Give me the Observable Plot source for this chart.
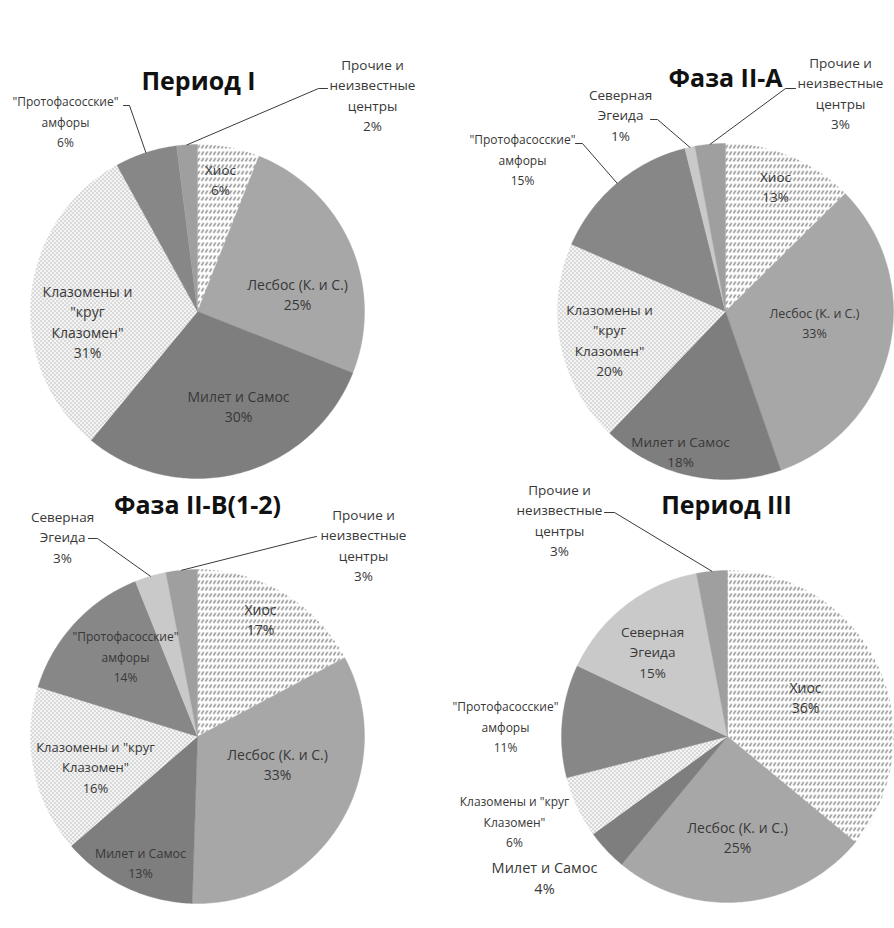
<!DOCTYPE html>
<html><head><meta charset="utf-8">
<script src="https://cdn.jsdelivr.net/npm/d3@7"></script>
<script src="https://cdn.jsdelivr.net/npm/@observablehq/plot@0.6"></script>
<style>
body{margin:0;background:#fff;}
#chart{width:894px;height:928px;}
</style>
</head><body>
<svg width="0" height="0" style="position:absolute">
<defs>
<pattern id="hatch" patternUnits="userSpaceOnUse" width="4" height="6.5">
<rect width="4" height="6.5" fill="#fff"/>
<path d="M1,5 L3.2,1.4" stroke="#5e5e5e" stroke-width="1.05"/>
</pattern>
<pattern id="dots" patternUnits="userSpaceOnUse" width="4" height="4">
<rect width="4" height="4" fill="#f7f7f7"/>
<rect x="0" y="0" width="1.1" height="1.1" fill="#8a8a8a"/>
<rect x="2" y="2" width="1.1" height="1.1" fill="#8a8a8a"/>
</pattern>
</defs></svg>
<div id="chart"></div>
<script>
// ---- DATA ----
const categories = ["Хиос", "Лесбос (К. и С.)", "Милет и Самос", "Клазомены и \"круг Клазомен\"", "\"Протофасосские\" амфоры", "Северная Эгеида", "Прочие и неизвестные центры"];
const panelTitles = ["Период I", "Фаза II-A", "Фаза II-B(1-2)", "Период III"];
const valuesPeriodI   = [6, 25, 30, 31, 6, 0, 2];
const valuesPhaseIIA  = [13, 33, 18, 20, 15, 1, 3];
const valuesPhaseIIB  = [17, 33, 13, 16, 14, 3, 3];
const valuesPeriodIII = [36, 25, 4, 6, 11, 15, 3];
const panelValues = [valuesPeriodI, valuesPhaseIIA, valuesPhaseIIB, valuesPeriodIII];

// ---- STYLE ----
const sliceFill = ["url(#hatch)", "#a7a7a7", "#7e7e7e", "url(#dots)", "#878787", "#c9c9c9", "#9f9f9f"];

// ---- LAYOUT (label placement, wrapping) ----
const layout = [
  {cx:197, cy:311, r:167, tx:198, ty:81, labels:[
    {x:220, y:170, s:13.5, lines:["Хиос"]},
    {x:297, y:285, s:14,   lines:["Лесбос (К. и С.)"]},
    {x:238, y:397, s:14,   lines:["Милет и Самос"]},
    {x:87,  y:292, s:14,   lines:["Клазомены и","\"круг","Клазомен\""]},
    {x:65,  y:102, s:12,   lines:["\"Протофасосские\"","амфоры"], lead:[[123,105],[129,105]]},
    null,
    {x:372, y:65,  s:13.5, lines:["Прочие и","неизвестные","центры"], lead:[[327,88],[318,88]]}
  ]},
  {cx:725, cy:311, r:168, tx:725, ty:78, labels:[
    {x:775, y:177, s:13.5, lines:["Хиос"]},
    {x:814, y:313, s:12.5, lines:["Лесбос (К. и С.)"]},
    {x:680, y:442, s:13.5, lines:["Милет и Самос"]},
    {x:609, y:310, s:13.5, lines:["Клазомены и","\"круг","Клазомен\""]},
    {x:522, y:140, s:12,   lines:["\"Протофасосские\"","амфоры"], lead:[[575,143],[582,143]]},
    {x:620, y:95,  s:13.5, lines:["Северная","Эгеида"], lead:[[650,119],[657,119]]},
    {x:840, y:63,  s:13.5, lines:["Прочие и","неизвестные","центры"], lead:[[795,88],[785,88]]}
  ]},
  {cx:197, cy:736, r:167, tx:197, ty:505, labels:[
    {x:260, y:610, s:14,   lines:["Хиос"]},
    {x:277, y:755, s:14,   lines:["Лесбос (К. и С.)"]},
    {x:140, y:853, s:12.5, lines:["Милет и Самос"]},
    {x:95,  y:747, s:13,   lines:["Клазомены и \"круг","Клазомен\""]},
    {x:125, y:637, s:12,   lines:["\"Протофасосские\"","амфоры"]},
    {x:62,  y:517, s:13.5, lines:["Северная","Эгеида"], lead:[[88,538],[97,538]]},
    {x:363, y:515, s:13.5, lines:["Прочие и","неизвестные","центры"], lead:[[316,536],[307,538]]}
  ]},
  {cx:727, cy:736, r:166, tx:726, ty:505, labels:[
    {x:805, y:688, s:14,   lines:["Хиос"]},
    {x:737, y:828, s:14,   lines:["Лесбос (К. и С.)"]},
    {x:544, y:868, s:14.5, lines:["Милет и Самос"]},
    {x:514, y:802, s:12,   lines:["Клазомены и \"круг","Клазомен\""]},
    {x:505, y:707, s:12,   lines:["\"Протофасосские\"","амфоры"]},
    {x:652, y:632, s:13.5, lines:["Северная","Эгеида"]},
    {x:559, y:490, s:13.5, lines:["Прочие и","неизвестные","центры"], lead:[[604,512],[614,512]]}
  ]}
];
const lineStep = 20.5;

// ---- BUILD TABLES ----
const slices = [], texts = [], leaders = [], titles = [];
panelValues.forEach((vals, p) => {
  const L = layout[p];
  const arcs = d3.pie().sort(null).value(d => d)(vals);
  const pt = (a, rr) => ({x: L.cx + rr * Math.sin(a), y: L.cy - rr * Math.cos(a)});
  titles.push({x: L.tx, y: L.ty, text: panelTitles[p]});
  arcs.forEach((arc, k) => {
    if (arc.value <= 0) return;
    const key = p + "-" + k;
    slices.push({key, k, ...pt(0, 0)});
    const n = Math.max(2, Math.ceil((arc.endAngle - arc.startAngle) / (Math.PI / 180)));
    for (let i = 0; i <= n; i++) {
      const a = arc.startAngle + (arc.endAngle - arc.startAngle) * i / n;
      slices.push({key, k, ...pt(a, L.r)});
    }
    slices.push({key, k, ...pt(0, 0)});
    const lab = L.labels[k];
    if (!lab) return;
    const lines = [...lab.lines, arc.value + "%"];
    lines.forEach((t, i) => texts.push({x: lab.x, y: lab.y + i * lineStep, text: t, size: lab.s}));
    if (lab.lead) {
      const mid = (arc.startAngle + arc.endAngle) / 2;
      const end = pt(mid, L.r);
      [...lab.lead.map(([x, y]) => ({x, y})), end].forEach(q => leaders.push({key, ...q}));
    }
  });
});

const marks = [];
categories.forEach((c, k) => {
  marks.push(Plot.line(slices.filter(d => d.k === k), {
    x: "x", y: "y", z: "key", fill: sliceFill[k], stroke: sliceFill[k], strokeWidth: 0.4, curve: "linear"
  }));
});
marks.push(Plot.line(leaders, {x: "x", y: "y", z: "key", stroke: "#3a3a3a", strokeWidth: 1, curve: "linear"}));
marks.push(Plot.text(texts, {x: "x", y: "y", text: "text", fontSize: d => d.size, fill: "#383838", lineAnchor: "middle"}));
marks.push(Plot.text(titles, {x: "x", y: "y", text: "text", fontSize: 25, fontWeight: "bold", fill: "#111", lineAnchor: "middle"}));

const chart = Plot.plot({
  width: 894, height: 928, margin: 0,
  x: {domain: [0, 894], axis: null},
  y: {domain: [0, 928], range: [0, 928], axis: null},
  style: {fontFamily: "'Open Sans', sans-serif", background: "#fff"},
  marks
});
document.getElementById("chart").appendChild(chart);
</script>
</body></html>
